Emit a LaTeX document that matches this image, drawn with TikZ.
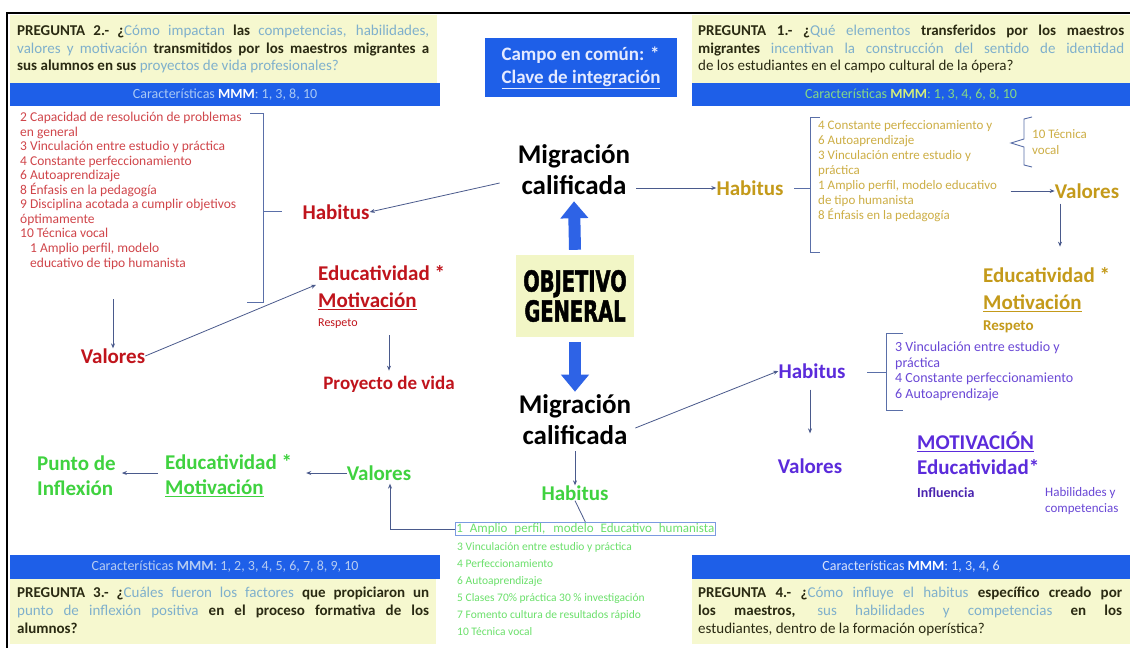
\documentclass[tikz,border=0pt]{standalone}
\usepackage{fontspec}
\setmainfont{Carlito}
\newfontfamily\impactfont[FakeStretch=0.67,FakeBold=1.5]{DejaVu Sans}
\usetikzlibrary{arrows.meta,calc}
\definecolor{qy}{HTML}{F6F8CF}
\definecolor{objy}{HTML}{F2F6C6}
\definecolor{bbar}{HTML}{1E5FE8}
\definecolor{bartl}{HTML}{A9C9F5}
\definecolor{bargr}{HTML}{86D986}
\definecolor{barmm}{HTML}{D4EE7A}
\definecolor{barbl}{HTML}{B6CCF2}
\definecolor{barwh}{HTML}{D7E2FA}
\definecolor{qlight}{HTML}{7FB0CC}
\definecolor{qdark}{HTML}{2A2A12}
\definecolor{arrc}{HTML}{4A5A8C}
\definecolor{brkc}{HTML}{5A6FA8}
\definecolor{redh}{HTML}{C0141C}
\definecolor{redl}{HTML}{D0454A}
\definecolor{goldh}{HTML}{C49A1A}
\definecolor{goldl}{HTML}{CDAE45}
\definecolor{purh}{HTML}{5B2BDB}
\definecolor{purl}{HTML}{6A48D6}
\definecolor{purd}{HTML}{4A24B0}
\definecolor{grnh}{HTML}{3FD23F}
\definecolor{grnl}{HTML}{6BE06B}
\definecolor{gbox}{HTML}{7B9BE0}
\definecolor{bigblue}{HTML}{2E63E6}
\definecolor{campot}{HTML}{E4EAFF}
\newcommand\qlt[1]{{\mdseries\color{qlight}#1}}
\newcommand\qbk[1]{{\bfseries\color{qdark}#1}}
\begin{document}
\begin{tikzpicture}[x=1pt,y=-1pt,
  arr/.style={draw=arrc,line width=0.8pt,-{Stealth[length=5pt,width=4pt]}},
  brk/.style={draw=brkc,line width=0.9pt},
  ln/.style={draw=arrc,line width=0.8pt},
  hd/.style={font=\bfseries\fontsize{21}{25}\selectfont,inner sep=0pt},
  qln/.style={anchor=base west,inner sep=0pt,font=\fontsize{15}{16}\selectfont},
  btx/.style={inner sep=0pt,font=\fontsize{14}{15}\selectfont},
  lst/.style={anchor=north west,inner sep=0pt,align=left},
  mig/.style={font=\bfseries\fontsize{27}{31}\selectfont,align=center,inner sep=0pt,text=black},
  bigarr/.style={draw=bigblue,line width=12pt,-{Triangle[length=17pt,width=27pt]}}]

\useasboundingbox[fill=white] (0,0) rectangle (1130,648);
\draw[line width=2pt] (7,648) -- (7,13) -- (1130,13);

% ---------- top-left question
\fill[qy] (10,15) rectangle (437,83);
\fill[bbar] (10,83) rectangle (440,106);
\node[qln] (q2a) at (17,35.5) {\makebox[412pt][s]{\qbk{PREGUNTA 2.- ¿}\qlt{Cómo impactan} \qbk{las} \qlt{competencias, habilidades,}}};
\node[qln] (q2b) at (17,53) {\makebox[412pt][s]{\qlt{valores y motivación} \qbk{transmitidos por los maestros migrantes a}}};
\node[qln] (q2c) at (17,70.5) {\qbk{sus alumnos en sus} \qlt{proyectos de vida profesionales?}};
\node[btx,text=bartl] (b2) at (225,94.5) {Características \textbf{\color{white}MMM}: 1, 3, 8, 10};

% ---------- top-right question
\fill[qy] (692,15) rectangle (1130,83);
\fill[bbar] (692,83) rectangle (1130,106);
\node[qln] (q1a) at (698,35.5) {\makebox[426pt][s]{\qbk{PREGUNTA 1.- ¿}\qlt{Qué elementos} \qbk{transferidos por los maestros}}};
\node[qln] (q1b) at (698,53) {\makebox[426pt][s]{\qbk{migrantes} \qlt{incentivan la construcción del sentido de identidad}}};
\node[qln] (q1c) at (698,70.5) {{\color{qdark}de los estudiantes en el campo cultural de la ópera?}};
\node[btx,text=bargr] (b1) at (911,94.5) {Características \textbf{\color{barmm}MMM}: 1, 3, 4, 6, 8, 10};

% ---------- centre
\node[fill=bbar,text=campot,font=\bfseries\fontsize{19}{23}\selectfont,align=left,minimum width=192pt,minimum height=59pt,inner sep=0pt] (campo) at (581,67.5) {Campo en común: *\\\underline{Clave de integración}};
\node[mig] (mt) at (574,170) {Migración\\calificada};
\node[fill=objy,font=\impactfont\bfseries\fontsize{29}{30}\selectfont,align=center,minimum width=118pt,minimum height=82pt,inner sep=0pt] (obj) at (575,296) {OBJETIVO\\GENERAL};
\node[mig] (mb) at (575,420) {Migración\\calificada};
\draw[bigarr] ($(obj.north)+(0,-5)$) -- ($(mt.south)+(0,6)$);
\draw[bigarr] ($(obj.south)+(0,5)$) -- ($(mb.north)+(0,-3)$);

% ---------- left (red)
\node[hd,text=redh] (hr) at (336,212) {Habitus};
\draw[arr] ($(mt.west)+(-18,13)$) -- (hr.east);
\node[lst,text=redl,font=\fontsize{13.5}{14.5}\selectfont] (rl) at (20,112) {2 Capacidad de resolución de problemas\\en general\\3 Vinculación entre estudio y práctica\\4 Constante perfeccionamiento\\6 Autoaprendizaje\\8 Énfasis en la pedagogía\\9 Disciplina acotada a cumplir objetivos\\óptimamente\\10 Técnica vocal};
\node[lst,text=redl,font=\fontsize{13.5}{14.5}\selectfont] (ramp) at (30,243) {1 Amplio perfil, modelo\\educativo de tipo humanista};
\draw[brk] (250,113) -- (263,113) -- (263,302) -- (247,302);
\draw[brk] (263,211) -- (282,211);
\node[hd,text=redh] (vr) at (113,356) {Valores};
\draw[arr] ($(vr.north |- ramp.south)+(0,30)$) -- (vr.north);
\node[hd,text=redh,anchor=west] (er) at (318,273) {Educatividad *};
\node[hd,text=redh,anchor=west] (mr) at (318,301) {\underline{Motivación}};
\node[anchor=west,inner sep=0pt,text=redh,font=\fontsize{12}{14}\selectfont] (rr) at (318,324) {Respeto};
\draw[arr] (vr.east) -- ($(er.south west)+(-2,4)$);
\node[font=\bfseries\fontsize{19}{22}\selectfont,text=redh,inner sep=0pt] (pv) at (389,384) {Proyecto de vida};
\draw[arr] ($(pv.north |- rr.south)+(0,6)$) -- ($(pv.north)+(0,-5)$);

% ---------- right top (gold)
\node[hd,text=goldh] (hg) at (750,188) {Habitus};
\draw[arr] ($(mt.east |- hg.west)+(6,0)$) -- (hg.west);
\draw[brk] (820,117) -- (810,117) -- (810,252) -- (820,252);
\draw[brk] (794,188) -- (810,188);
\node[lst,text=goldl,font=\fontsize{13}{15}\selectfont] (gl) at (818,120) {4 Constante perfeccionamiento y\\6 Autoaprendizaje\\3 Vinculación entre estudio y\\práctica\\1 Amplio perfil, modelo educativo\\de tipo humanista\\8 Énfasis en la pedagogía};
\node[lst,text=goldl,font=\fontsize{13}{16}\selectfont] (gt) at (1032,129) {10 Técnica\\vocal};
\draw[brk] (1032,117) -- (1024,119) -- (1024,139) -- (1011,143) -- (1024,147) -- (1024,165) -- (1032,167);
\node[hd,text=goldh] (vg) at (1087,191) {Valores};
\draw[arr] ($(vg.west)+(-44,0)$) -- (vg.west);
\node[hd,text=goldh,anchor=west] (eg) at (983,275) {Educatividad *};
\node[hd,text=goldh,anchor=west] (mg) at (983,303) {\underline{Motivación}};
\node[anchor=west,inner sep=0pt,text=goldh,font=\bfseries\fontsize{15}{17}\selectfont] (rg) at (983,327) {Respeto};
\draw[arr] ($(vg.south)+(-27,5)$) -- ($(vg.south)+(-27,48)$);

% ---------- right middle (purple)
\node[hd,text=purh] (hp) at (812,371) {Habitus};
\draw[arr] ($(mb.east)+(4,8)$) -- (hp.west);
\draw[brk] (903,333) -- (886,333) -- (886,410) -- (903,410);
\draw[brk] (867,372) -- (886,372);
\node[lst,text=purl,font=\fontsize{14}{15.5}\selectfont] (pl) at (895,342) {3 Vinculación entre estudio y\\práctica\\4 Constante perfeccionamiento\\6 Autoaprendizaje};
\node[hd,text=purh] (vp) at (810,466) {Valores};
\draw[arr] ($(hp.south)+(-2,11)$) -- ($(vp.north)+(0,-25)$);
\node[hd,text=purh,anchor=west] (mp) at (917,442) {\underline{MOTIVACIÓN}};
\node[hd,text=purh,anchor=west] (ep) at (917,467) {Educatividad*};
\node[anchor=west,inner sep=0pt,text=purd,font=\bfseries\fontsize{14}{16}\selectfont] (ip) at (917,493) {Influencia};
\node[lst,text=purl,font=\fontsize{13}{16.5}\selectfont] (hcp) at (1045,487) {Habilidades y\\competencias};

% ---------- bottom boxes
\fill[qy] (10,579) rectangle (436,644);
\fill[bbar] (10,555) rectangle (440,579);
\node[btx,text=barbl] (b3) at (225,567) {Características \textbf{MMM}: 1, 2, 3, 4, 5, 6, 7, 8, 9, 10};
\node[qln] (q3a) at (17,597.5) {\makebox[412pt][s]{\qbk{PREGUNTA 3.- ¿}\qlt{Cuáles fueron los factores} \qbk{que propiciaron un}}};
\node[qln] (q3b) at (17,615.5) {\makebox[412pt][s]{\qlt{punto de inflexión positiva} \qbk{en el proceso formativa de los}}};
\node[qln] (q3c) at (17,633.5) {\qbk{alumnos?}};

\fill[qy] (692,579) rectangle (1130,644);
\fill[bbar] (692,555) rectangle (1130,579);
\node[btx,text=barwh] (b4) at (911,567) {Características \textbf{\color{white}MMM}: 1, 3, 4, 6};
\node[qln] (q4a) at (698,597.5) {\makebox[424pt][s]{\qbk{PREGUNTA 4.- ¿}\qlt{Cómo influye el habitus} \qbk{específico creado por}}};
\node[qln] (q4b) at (698,615.5) {\makebox[424pt][s]{\qbk{los maestros,} \qlt{sus habilidades y competencias} \qbk{en los}}};
\node[qln] (q4c) at (698,633.5) {{\color{qdark}estudiantes, dentro de la formación operística?}};

% ---------- bottom centre (green)
\node[hd,text=grnh] (gh) at (575,493) {Habitus};
\draw[arr] ($(mb.south)+(0,6)$) -- (gh.north);
\node[draw=gbox,line width=0.7pt,anchor=north west,inner sep=1pt,text=grnl,font=\fontsize{13}{14}\selectfont] (gb) at (455,522) {\makebox[258pt][s]{1 Amplio perfil, modelo Educativo humanista}};
\draw[ln] (gh.south) -- (gb.north);
\node[lst,text=grnl,font=\fontsize{11.5}{17}\selectfont] (gl2) at (457,542) {3 Vinculación entre estudio y práctica\\4 Perfeccionamiento\\6 Autoaprendizaje\\5 Clases 70\% práctica 30 \% investigación\\7 Fomento cultura de resultados rápido\\10 Técnica vocal};
\node[hd,text=grnh] (gv) at (379,473) {Valores};
\draw[arr] (gb.west) -| ($(gv.south)+(11,3)$);
\node[hd,text=grnh,anchor=west] (egr) at (165,462) {Educatividad *};
\node[hd,text=grnh,anchor=west] (mgr) at (165,488) {\underline{Motivación}};
\draw[arr] (gv.west) -- ($(egr.east |- gv.west)+(14,0)$);
\node[hd,text=grnh,anchor=west,align=left] (pi) at (37,476) {Punto de\\Inflexión};
\draw[arr] ($(egr.west |- gv.west)+(-7,0)$) -- ($(pi.east |- gv.west)+(6,0)$);
\end{tikzpicture}
\end{document}
